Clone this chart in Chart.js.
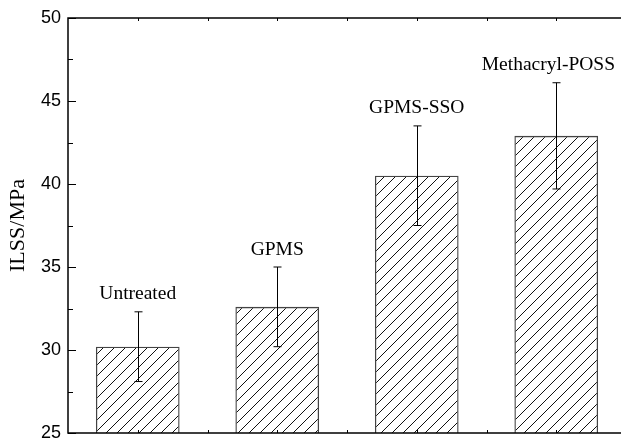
<!DOCTYPE html>
<html>
<head>
<meta charset="utf-8">
<script src="https://cdn.jsdelivr.net/npm/chart.js@4/dist/chart.umd.min.js"></script>
<style>
  html, body { margin: 0; padding: 0; background: #fff; overflow: hidden; }
  #wrap { width: 626px; height: 441px; }
</style>
</head>
<body>
<div id="wrap"><canvas id="c" width="626" height="441"></canvas></div>
<script>
// Interlaminar shear strength per fibre surface treatment
const treatments = ['Untreated', 'GPMS', 'GPMS-SSO', 'Methacryl-POSS'];
const ilss = [30.2, 32.6, 40.5, 42.9];
const ilssError = [2.1, 2.4, 3.0, 3.2];
const yTicks = [25, 30, 35, 40, 45, 50];

// Diagonal "/" hatch used to fill the bars
function hatchPattern(step) {
  const t = document.createElement('canvas');
  t.width = step; t.height = step;
  const g = t.getContext('2d');
  g.strokeStyle = '#111';
  g.lineWidth = 1;
  g.beginPath();
  g.moveTo(0, step); g.lineTo(step, 0);
  g.moveTo(-2, 2); g.lineTo(2, -2);
  g.moveTo(step - 2, step + 2); g.lineTo(step + 2, step - 2);
  g.stroke();
  return document.getElementById('c').getContext('2d').createPattern(t, 'repeat');
}

const serif = '"Liberation Serif", "Times New Roman", serif';
const sans = '"Liberation Sans", Arial, sans-serif';

// Frame, inward ticks, error bars and the treatment labels above each bar
const decorations = {
  id: 'decorations',
  afterDatasetsDraw(chart) {
    const ctx = chart.ctx;
    const x = chart.scales.x, y = chart.scales.y;
    const a = chart.chartArea;
    ctx.save();
    ctx.strokeStyle = '#000';

    // error bars
    ctx.lineWidth = 1;
    const meta = chart.getDatasetMeta(0);
    ilss.forEach((v, i) => {
      const cx = Math.round(meta.data[i].x) + 0.5;
      const yt = y.getPixelForValue(v + ilssError[i]);
      const yb = y.getPixelForValue(v - ilssError[i]);
      ctx.beginPath();
      ctx.moveTo(cx, yt); ctx.lineTo(cx, yb);
      ctx.moveTo(cx - 4, yt); ctx.lineTo(cx + 4, yt);
      ctx.moveTo(cx - 4, yb); ctx.lineTo(cx + 4, yb);
      ctx.stroke();
    });

    // labels above the error bars
    ctx.fillStyle = '#000';
    ctx.font = '19.5px ' + serif;
    ctx.textAlign = 'center';
    ctx.textBaseline = 'alphabetic';
    treatments.forEach((name, i) => {
      const w = ctx.measureText(name).width;
      let cx = meta.data[i].x;
      if (cx + w / 2 > 615) cx = 615 - w / 2;
      const yt = y.getPixelForValue(ilss[i] + ilssError[i]);
      ctx.fillText(name, cx, yt - 12.5);
    });

    // frame
    ctx.lineWidth = 1.5;
    ctx.beginPath();
    ctx.moveTo(a.left, a.top); ctx.lineTo(a.right, a.top);
    ctx.moveTo(a.left, a.bottom); ctx.lineTo(a.right, a.bottom);
    ctx.moveTo(a.left, a.top - 0.75); ctx.lineTo(a.left, a.bottom + 0.75);
    ctx.stroke();

    // y ticks (major + minor), pointing into the plot
    ctx.lineWidth = 1;
    for (let v = y.min; v <= y.max + 1e-6; v += 2.5) {
      const py = Math.round(y.getPixelForValue(v)) + 0.5;
      const len = (Math.abs(v % 5) < 1e-6) ? 8 : 5;
      ctx.beginPath();
      ctx.moveTo(a.left, py); ctx.lineTo(a.left + len, py);
      ctx.stroke();
    }

    // x ticks at category centres and between categories
    for (let k = -0.5; k <= treatments.length - 0.5; k += 0.5) {
      const px = Math.round(x.getPixelForValue(k)) + 0.5;
      if (px <= a.left + 1 || px >= a.right - 1) continue;
      ctx.beginPath();
      ctx.moveTo(px, a.bottom); ctx.lineTo(px, a.bottom - 3);
      ctx.moveTo(px, a.top); ctx.lineTo(px, a.top + 3);
      ctx.stroke();
    }
    ctx.restore();
  }
};

new Chart(document.getElementById('c'), {
  type: 'bar',
  data: {
    labels: treatments,
    datasets: [{
      data: ilss,
      backgroundColor: hatchPattern(11),
      borderColor: '#444',
      borderWidth: 1.3,
      barPercentage: 0.6,
      categoryPercentage: 1.0
    }]
  },
  options: {
    responsive: false,
    animation: false,
    devicePixelRatio: 1,
    layout: { padding: { top: 18, right: 0, bottom: 0, left: 0 } },
    plugins: { legend: { display: false }, tooltip: { enabled: false } },
    scales: {
      x: {
        type: 'category',
        offset: true,
        grid: { display: false, drawTicks: false },
        border: { display: false },
        ticks: { display: false },
        afterFit(s) { s.height = 8; s.paddingLeft = 0; s.paddingRight = 0; }
      },
      y: {
        min: 25,
        max: 50,
        afterBuildTicks(s) { s.ticks = yTicks.map(v => ({ value: v })); },
        grid: { display: false, drawTicks: false },
        border: { display: false },
        ticks: {
          color: '#000',
          padding: 7,
          font: { family: sans, size: 18 }
        },
        title: {
          display: true,
          text: 'ILSS/MPa',
          color: '#000',
          padding: { top: 5, bottom: 0 },
          font: { family: serif, size: 22 }
        },
        afterFit(s) { s.width = 68; s.paddingTop = 0; s.paddingBottom = 0; }
      }
    }
  },
  plugins: [decorations]
});
</script>
</body>
</html>
